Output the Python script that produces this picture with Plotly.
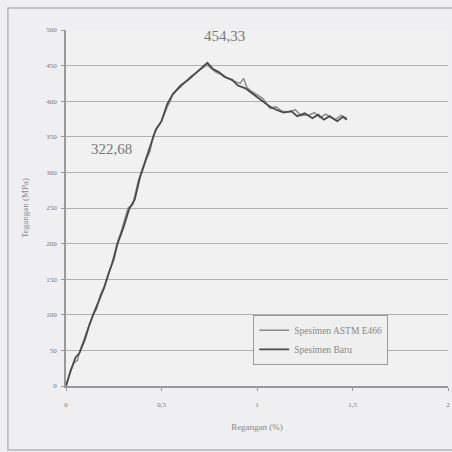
import plotly.graph_objects as go

# Strain (%) and stress (MPa)
strain_astm = [0.0, 0.02, 0.04, 0.06, 0.073, 0.09, 0.11, 0.13, 0.141, 0.16, 0.18, 0.2, 0.215, 0.24, 0.267,
               0.29, 0.31, 0.325, 0.35, 0.38, 0.398, 0.42, 0.44, 0.455, 0.476, 0.5, 0.53, 0.545, 0.56,
               0.6, 0.649, 0.68, 0.71, 0.738, 0.76, 0.79, 0.822, 0.85, 0.88, 0.911, 0.93, 0.948, 0.97,
               1.0, 1.03, 1.068, 1.1, 1.13, 1.173, 1.2, 1.23, 1.277, 1.3, 1.33, 1.36, 1.382, 1.41, 1.44, 1.471]
stress_astm = [0, 18, 32, 36, 50, 62, 78, 92, 100, 108, 128, 140, 150, 172, 200,
               218, 236, 250, 255, 290, 300, 318, 330, 350, 362, 372, 392, 400, 411,
               420, 434, 440, 446, 451, 446, 440, 437, 432, 428, 425, 432, 419, 414,
               409, 404, 390, 392, 386, 385, 388, 380, 381, 384, 377, 382, 378, 374, 380, 376]

strain_input = [0.0, 0.025, 0.05, 0.07, 0.1, 0.12, 0.145, 0.17, 0.2, 0.22, 0.25, 0.27, 0.3, 0.33,
                0.36, 0.39, 0.41, 0.44, 0.47, 0.5, 0.53, 0.56, 0.6, 0.64, 0.68, 0.72, 0.74, 0.77,
                0.8, 0.83, 0.87, 0.9, 0.94, 0.97, 1.0, 1.04, 1.07, 1.1, 1.14, 1.18, 1.21, 1.25, 1.29,
                1.32, 1.35, 1.38, 1.42, 1.45, 1.47]
stress_input = [0, 22, 40, 46, 66, 84, 102, 118, 138, 156, 178, 200, 222, 248,
                262, 296, 312, 334, 360, 372, 396, 410, 422, 430, 440, 450, 454, 445,
                441, 434, 430, 422, 418, 412, 406, 398, 392, 388, 384, 386, 379, 383, 376,
                381, 374, 379, 372, 378, 374]

y_ticks = [0, 50, 100, 150, 200, 250, 300, 350, 400, 450, 500]
x_ticks = [0, 0.5, 1, 1.5, 2]
x_tick_labels = ["0", "0,5", "1", "1,5", "2"]

fig = go.Figure()
fig.add_trace(go.Scatter(x=strain_astm, y=stress_astm, mode="lines", name="Spesimen ASTM E466",
                         line=dict(color="#8c8c8c", width=1.5)))
fig.add_trace(go.Scatter(x=strain_input, y=stress_input, mode="lines", name="Spesimen Baru",
                         line=dict(color="#4a4a4a", width=1.8)))

fig.add_annotation(x=0.83, y=454.33, text="454,33", showarrow=False, yshift=27,
                   font=dict(family="Liberation Serif", size=15, color="#777"))
fig.add_annotation(x=0.24, y=333, text="322,68", showarrow=False, yshift=0,
                   font=dict(family="Liberation Serif", size=15, color="#777"))

# outer scanned frame
fig.add_shape(type="rect", xref="paper", yref="paper", x0=-0.152, x1=1.03, y0=-0.18, y1=1.062,
              line=dict(color="#b5b5b5", width=1.5))

fig.update_layout(
    width=452, height=452,
    margin=dict(l=66, r=4, t=30, b=66, autoexpand=False),
    paper_bgcolor="#efeff1", plot_bgcolor="#f1f1f2",
    font=dict(family="Liberation Serif", size=7, color="#777"),
    showlegend=True,
    legend=dict(x=0.49, y=0.2, xanchor="left", yanchor="top", bgcolor="#efefef",
                bordercolor="#9a9a9a", borderwidth=1, font=dict(size=9.5, color="#888"),
                tracegroupgap=0, itemwidth=30),
    xaxis=dict(range=[0, 2], tickvals=x_ticks, ticktext=x_tick_labels, showgrid=False,
               showline=True, linecolor="#999", linewidth=1.5, ticks="outside", ticklen=3,
               tickcolor="#999", zeroline=False, automargin=False, ticklabelstandoff=8,
               title=dict(text="Regangan (%)", font=dict(size=9, color="#888"), standoff=16)),
    yaxis=dict(range=[0, 500], tickvals=y_ticks, showgrid=True, gridcolor="#b0b0b0", gridwidth=1,
               showline=True, linecolor="#999", linewidth=1.5, ticks="outside", ticklen=3,
               tickcolor="#999", zeroline=False, automargin=False, ticklabelstandoff=3,
               title=dict(text="Tegangan (MPa)", font=dict(size=9, color="#888"), standoff=16)),
)

fig.write_html("out.html", config={"displayModeBar": False},
               post_script="document.body.style.margin='0';document.body.style.overflow='hidden';")
